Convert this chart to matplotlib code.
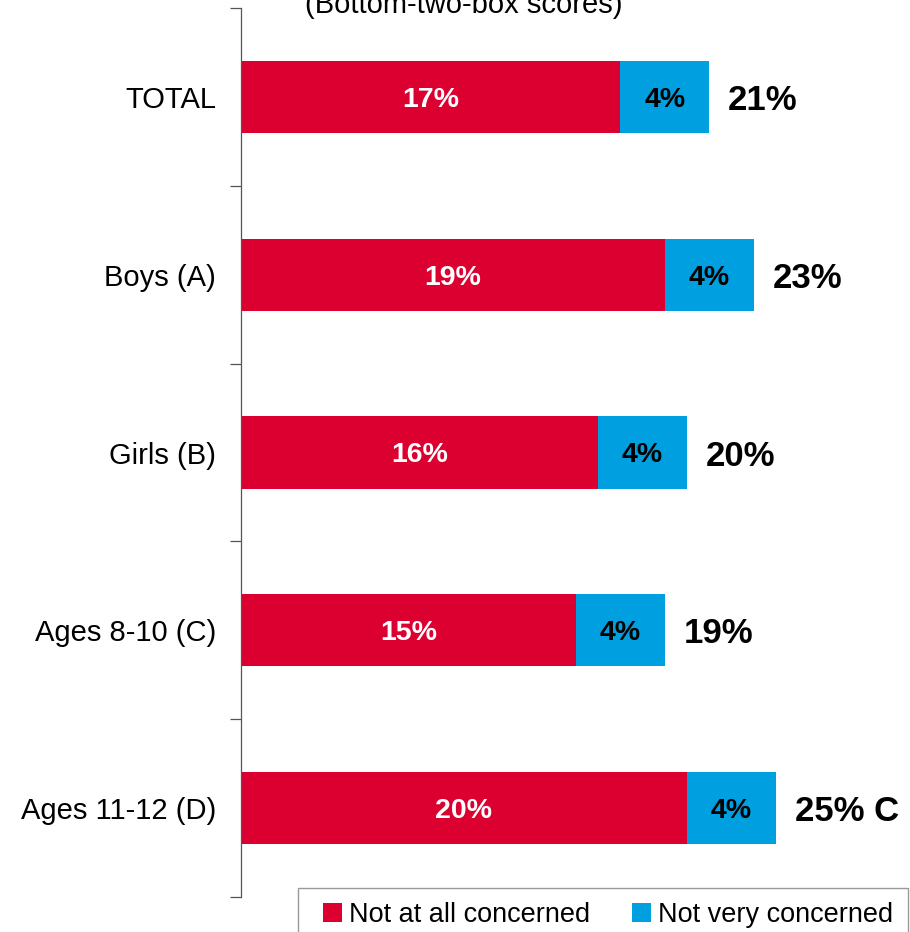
import matplotlib
matplotlib.use("Agg")
import matplotlib.pyplot as plt
from matplotlib.patches import Patch, Rectangle
import numpy as np

plt.rcParams['font.family'] = ['Liberation Sans', 'DejaVu Sans']

categories = ["TOTAL", "Boys (A)", "Girls (B)", "Ages 8-10 (C)", "Ages 11-12 (D)"]
not_at_all = [17, 19, 16, 15, 20]
not_very = [4, 4, 4, 4, 4]
total_labels = ["21%", "23%", "20%", "19%", "25% C"]

RED = "#DC0030"
BLUE = "#009FDF"

W, H = 910, 932
fig = plt.figure(figsize=(W / 100, H / 100), dpi=100)
ax = fig.add_axes([241 / W, 1 - 897 / H, 1 - 241 / W, (897 - 8) / H])

y = np.arange(len(categories))
h = 0.405
ax.barh(y, not_at_all, height=h, color=RED, edgecolor='none')
ax.barh(y, not_very, left=not_at_all, height=h, color=BLUE, edgecolor='none')

for yi, a, b, t in zip(y, not_at_all, not_very, total_labels):
    ax.text(a / 2, yi, f"{a}%", ha='center', va='center_baseline', color='white',
            fontsize=20.5, fontweight='bold')
    ax.text(a + b / 2, yi, f"{b}%", ha='center', va='center_baseline', color='black',
            fontsize=20.5, fontweight='bold')
    ax.annotate(t, xy=(a + b, yi), xytext=(13.5, 0), textcoords='offset points',
                ha='left', va='center_baseline', fontsize=25, fontweight='bold')

ax.set_xlim(0, 30)
ax.set_ylim(len(categories) - 0.5, -0.5)
ax.set_yticks(y)
ax.set_yticklabels(categories, fontsize=21, va='center_baseline')
ax.tick_params(axis='y', which='major', length=0, pad=18)
ax.set_yticks(np.arange(-0.5, len(categories), 1), minor=True)
ax.tick_params(axis='y', which='minor', length=8, width=0.9, color='#555555')
ax.set_xticks([])
for side in ['top', 'right', 'bottom']:
    ax.spines[side].set_visible(False)
ax.spines['left'].set_color('#555555')
ax.spines['left'].set_linewidth(0.9)

fig.text(464 / W, 1 - 13 / H, "(Bottom-two-box scores)", ha='center',
         va='baseline', fontsize=21)

# legend box, running off the bottom edge of the figure
fig.add_artist(Rectangle((298 / W, -0.02), (908 - 298) / W, 0.02 + (H - 888) / H,
                         transform=fig.transFigure, facecolor='white',
                         edgecolor='#999999', linewidth=1.0))

handles = [Patch(facecolor=RED, edgecolor='none', label="Not at all concerned"),
           Patch(facecolor=BLUE, edgecolor='none', label="Not very concerned")]
leg = fig.legend(handles=handles, loc='upper left',
                 bbox_to_anchor=(323 / W, 1 - 902 / H), ncol=2,
                 fontsize=19.5, frameon=False,
                 handlelength=0.7, handleheight=0.7, handletextpad=0.25,
                 columnspacing=1.55, borderpad=0, borderaxespad=0)

fig.savefig("out.png", dpi=100)
